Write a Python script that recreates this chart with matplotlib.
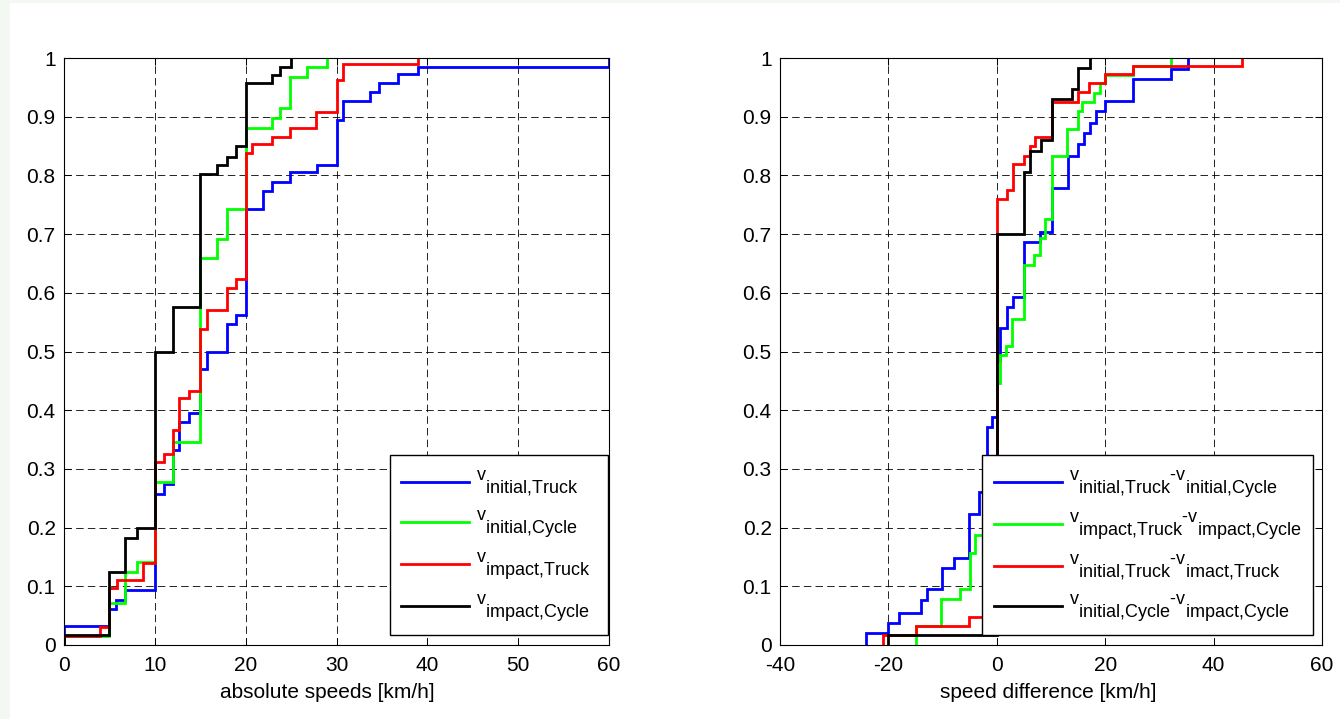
import matplotlib
matplotlib.use('Agg')
import matplotlib.pyplot as plt
import matplotlib._mathtext as _mt
import numpy as np
from matplotlib.patches import Rectangle
from matplotlib.legend_handler import HandlerLine2D

# MATLAB-style TeX labels: full-size subscripts, dropped well below the baseline
_mt.SHRINK_FACTOR = 1.0
_mt.FontConstantsBase.sub1 = 1.3

plt.rcParams['font.family'] = ['Liberation Sans', 'DejaVu Sans']
plt.rcParams['mathtext.fontset'] = 'custom'
plt.rcParams['mathtext.rm'] = 'Liberation Sans'
plt.rcParams['mathtext.it'] = 'Liberation Sans:italic'
plt.rcParams['mathtext.bf'] = 'Liberation Sans:bold'

# ---------------- data ----------------
# Left panel: absolute speeds (ECDF jump positions and cumulative levels)
abs_init_truck_x = [0, 5, 5.7, 6.7, 10, 11, 12, 12.7, 13.8, 15, 15.7, 17.9, 18.9, 20, 21.9,
                    22.9, 24.9, 27.8, 30, 30.7, 33.7, 34.7, 36.8, 39, 60]
abs_init_truck_y = [0.032, 0.062, 0.077, 0.094, 0.258, 0.274, 0.333, 0.380, 0.396, 0.470, 0.500,
                    0.547, 0.562, 0.742, 0.774, 0.789, 0.805, 0.818, 0.894, 0.927, 0.942, 0.957,
                    0.972, 0.985, 1.0]
abs_init_cycle_x = [0, 5, 6.7, 8, 10, 12, 15, 16.8, 17.9, 20, 22.9, 23.8, 24.9, 26.7, 28.9]
abs_init_cycle_y = [0.015, 0.071, 0.124, 0.142, 0.278, 0.346, 0.659, 0.691, 0.742, 0.880, 0.897,
                    0.915, 0.968, 0.985, 1.0]
abs_imp_truck_x = [0, 4, 5, 5.8, 8.7, 10, 11, 12, 12.7, 13.8, 15, 15.7, 17.9, 18.9, 20, 20.7,
                   22.9, 24.9, 27.7, 30, 30.7, 39]
abs_imp_truck_y = [0.015, 0.030, 0.097, 0.111, 0.139, 0.312, 0.325, 0.366, 0.420, 0.433, 0.539,
                   0.571, 0.608, 0.623, 0.838, 0.853, 0.865, 0.880, 0.908, 0.963, 0.989, 1.0]
abs_imp_cycle_x = [0, 5, 6.7, 8, 10, 12, 15, 16.8, 17.9, 18.9, 20, 22.9, 23.8, 25]
abs_imp_cycle_y = [0.017, 0.124, 0.183, 0.199, 0.500, 0.576, 0.803, 0.818, 0.832, 0.850, 0.957,
                   0.971, 0.985, 1.0]

# Right panel: speed differences
d_init_x = [-24.1, -20, -18, -13.9, -12.9, -10.2, -7.9, -5.1, -3.3, -1.85, -0.9, 0, 0.6, 1.85,
            2.9, 5.05, 8, 10.2, 13.2, 15, 16, 17.2, 18.3, 20, 25.2, 32.2, 35.3]
d_init_y = [0.020, 0.038, 0.055, 0.077, 0.095, 0.132, 0.149, 0.223, 0.261, 0.372, 0.389, 0.483,
            0.540, 0.576, 0.593, 0.687, 0.704, 0.778, 0.833, 0.853, 0.872, 0.890, 0.910, 0.927,
            0.965, 0.982, 1.0]
d_imp_x = [-15, -10.3, -6.8, -5, -4.1, 0, 0.6, 1.7, 2.8, 5.05, 6.9, 8, 8.9, 10.2, 12.9, 14.9,
           15.8, 18, 19, 20, 25.1, 32.2]
d_imp_y = [0.032, 0.079, 0.095, 0.156, 0.187, 0.446, 0.494, 0.510, 0.556, 0.647, 0.664, 0.693,
           0.725, 0.833, 0.879, 0.910, 0.925, 0.940, 0.957, 0.971, 0.986, 1.0]
d_truck_x = [-21, -15, -5.1, 0, 1.85, 2.9, 5.05, 6.2, 7.0, 10.2, 14.9, 17.1, 20, 25.1, 45.2]
d_truck_y = [0.017, 0.032, 0.048, 0.759, 0.775, 0.819, 0.833, 0.850, 0.865, 0.925, 0.942, 0.957,
             0.972, 0.986, 1.0]
d_cycle_x = [-20, 0, 5.05, 6.2, 8.1, 10.2, 13.9, 14.9, 17.2]
d_cycle_y = [0.017, 0.700, 0.806, 0.842, 0.860, 0.930, 0.947, 0.983, 1.0]

left_labels = [r'$\mathrm{v}_{\mathrm{initial{,}Truck}}$  ',
               r'$\mathrm{v}_{\mathrm{initial{,}Cycle}}$  ',
               r'$\mathrm{v}_{\mathrm{impact{,}Truck}}$  ',
               r'$\mathrm{v}_{\mathrm{impact{,}Cycle}}$  ']
right_labels = [r'$\mathrm{v}_{\mathrm{initial{,}Truck}}$-$\mathrm{v}_{\mathrm{initial{,}Cycle}}$',
                r'$\mathrm{v}_{\mathrm{impact{,}Truck}}$-$\mathrm{v}_{\mathrm{impact{,}Cycle}}$',
                r'$\mathrm{v}_{\mathrm{initial{,}Truck}}$-$\mathrm{v}_{\mathrm{imact{,}Truck}}$',
                r'$\mathrm{v}_{\mathrm{initial{,}Cycle}}$-$\mathrm{v}_{\mathrm{impact{,}Cycle}}$']

yticks = [0, 0.1, 0.2, 0.3, 0.4, 0.5, 0.6, 0.7, 0.8, 0.9, 1.0]
ytick_labels = ['0', '0.1', '0.2', '0.3', '0.4', '0.5', '0.6', '0.7', '0.8', '0.9', '1']
left_xticks = [0, 10, 20, 30, 40, 50, 60]
right_xticks = [-40, -20, 0, 20, 40, 60]
colors = ['#0000ff', '#00ff00', '#ff0000', '#000000']


class LoweredLine(HandlerLine2D):
    """Legend line drawn a little lower, level with the subscripted label."""
    def create_artists(self, legend, orig_handle, xdescent, ydescent, width, height,
                       fontsize, trans):
        arts = super().create_artists(legend, orig_handle, xdescent, ydescent, width,
                                      height, fontsize, trans)
        for a in arts:
            a.set_ydata(np.asarray(a.get_ydata(), dtype=float) - 0.45 * fontsize)
        return arts


# ---------------- figure ----------------
fig = plt.figure(figsize=(13.4, 7.19), dpi=100, facecolor='#f3f8f3')
fig.patches.append(Rectangle((10 / 1340, 0), 1, 1 - 3 / 719, transform=fig.transFigure,
                             facecolor='white', edgecolor='none', zorder=-10))

W, H = 1340, 719
ax1 = fig.add_axes([64 / W, (H - 645) / H, 545 / W, 587 / H])
ax2 = fig.add_axes([780 / W, (H - 645) / H, 542 / W, 587 / H])


def draw(ax, series, labels):
    for (xs, ys), c, lab in zip(series, colors, labels):
        x = np.r_[xs[0], xs]
        y = np.r_[0.0, ys]
        ax.step(x, y, where='post', color=c, lw=2.0, label=lab, solid_joinstyle='miter')


draw(ax1, [(abs_init_truck_x, abs_init_truck_y), (abs_init_cycle_x, abs_init_cycle_y),
           (abs_imp_truck_x, abs_imp_truck_y), (abs_imp_cycle_x, abs_imp_cycle_y)], left_labels)
draw(ax2, [(d_init_x, d_init_y), (d_imp_x, d_imp_y),
           (d_truck_x, d_truck_y), (d_cycle_x, d_cycle_y)], right_labels)

for ax, xt, xl, lab, lx in [(ax1, left_xticks, (0, 60), 'absolute speeds [km/h]', 0.484),
                            (ax2, right_xticks, (-40, 60), 'speed difference [km/h]', 0.495)]:
    ax.set_xlim(*xl)
    ax.set_ylim(0, 1)
    ax.set_xticks(xt)
    ax.set_xticklabels([str(v) for v in xt])
    ax.set_yticks(yticks)
    ax.set_yticklabels(ytick_labels)
    ax.tick_params(direction='in', length=5, width=0.75, top=True, right=True,
                   labelsize=15, colors='black')
    ax.tick_params(axis='y', pad=6)
    ax.tick_params(axis='x', pad=8)
    ax.grid(True, color='black', lw=0.6, linestyle=(0, (9, 5)))
    ax.set_axisbelow(True)
    for s in ax.spines.values():
        s.set_linewidth(0.8)
        s.set_color('black')
    ax.set_xlabel(lab, fontsize=15, labelpad=6)
    ax.xaxis.label.set_x(lx)

leg_kw = dict(fontsize=13, frameon=True, fancybox=False, framealpha=1, edgecolor='black',
              handlelength=3.76, handletextpad=0.4, borderpad=0.65, labelspacing=0.55,
              loc='lower right', handler_map={matplotlib.lines.Line2D: LoweredLine()})
l1 = ax1.legend(bbox_to_anchor=(0.998, 0.017), borderaxespad=0, **leg_kw)
l2 = ax2.legend(bbox_to_anchor=(0.9834, 0.017), borderaxespad=0, **leg_kw)
for l in (l1, l2):
    l.get_frame().set_linewidth(1.0)

fig.savefig('out.png', dpi=100, facecolor=fig.get_facecolor())
